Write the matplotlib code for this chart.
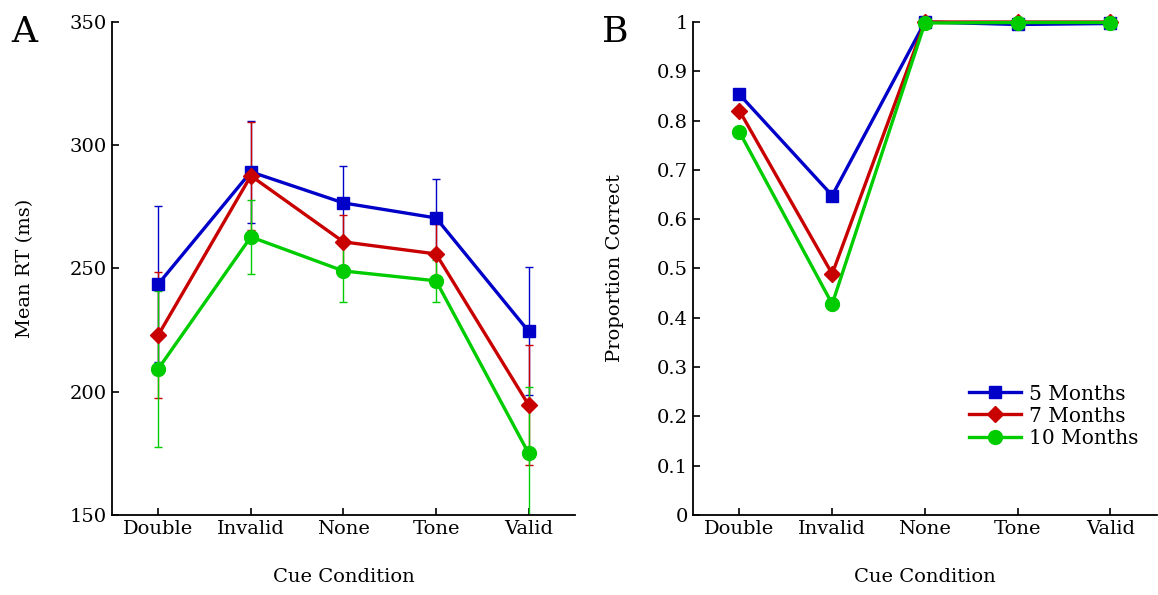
"""Mean RT and proportion correct by cue condition for three age groups."""

import matplotlib
matplotlib.use("Agg")
import matplotlib.pyplot as plt

plt.rcParams["font.family"] = ["DejaVu Serif"]

CONDITIONS = ["Double", "Invalid", "None", "Tone", "Valid"]
GROUPS = ["5 Months", "7 Months", "10 Months"]

# Panel A: mean RT (ms) and error bar half-widths
RT = {
    "5 Months": [243.7, 289.2, 276.6, 270.5, 224.5],
    "7 Months": [223.0, 287.6, 260.8, 255.9, 194.6],
    "10 Months": [209.3, 262.8, 249.0, 245.0, 175.0],
}
RT_ERR = {
    "5 Months": [31.6, 20.7, 15.0, 16.0, 26.0],
    "7 Months": [25.4, 22.0, 11.0, 12.0, 24.3],
    "10 Months": [31.6, 15.0, 12.4, 8.5, 27.0],
}

# Panel B: proportion correct
ACC = {
    "5 Months": [0.853, 0.648, 1.0, 0.995, 0.997],
    "7 Months": [0.820, 0.489, 1.0, 1.0, 1.0],
    "10 Months": [0.777, 0.428, 0.998, 0.999, 0.999],
}

COLORS = {"5 Months": "#0000c8", "7 Months": "#c80000", "10 Months": "#00cc00"}
MARKERS = {"5 Months": "s", "7 Months": "D", "10 Months": "o"}
MSIZE = {"5 Months": 8.5, "7 Months": 8, "10 Months": 10}
FS = 14

x = list(range(1, len(CONDITIONS) + 1))

fig = plt.figure(figsize=(11.58, 5.95), dpi=100)
axA = fig.add_axes([0.0967, 0.1345, 0.3998, 0.8285])
axB = fig.add_axes([0.5985, 0.1345, 0.4005, 0.8285])


def style_axis(ax):
    for side in ["top", "right"]:
        ax.spines[side].set_visible(False)
    for side in ["left", "bottom"]:
        ax.spines[side].set_linewidth(1.3)
    ax.tick_params(direction="in", length=5, width=1.2, labelsize=FS)
    ax.set_xlim(0.5, 5.5)
    ax.set_xticks(x)
    ax.set_xticklabels(CONDITIONS)
    ax.set_xlabel("Cue Condition", fontsize=FS, labelpad=22)


# --- Panel A ---
for g in GROUPS:
    axA.errorbar(x, RT[g], yerr=RT_ERR[g], color=COLORS[g], linewidth=2.4,
                 elinewidth=1.0, capsize=3, capthick=1.0,
                 marker=MARKERS[g], markersize=MSIZE[g], label=g, clip_on=True)
axA.set_ylim(150, 350)
axA.set_yticks([150, 200, 250, 300, 350])
axA.set_ylabel("Mean RT (ms)", fontsize=FS, labelpad=26)
style_axis(axA)

# --- Panel B ---
for g in GROUPS:
    axB.plot(x, ACC[g], color=COLORS[g], linewidth=2.4,
             marker=MARKERS[g], markersize=MSIZE[g], label=g, clip_on=False)
axB.set_ylim(0, 1)
axB.set_yticks([i / 10 for i in range(11)])
axB.set_yticklabels(["0"] + [f"{i / 10:.1f}" for i in range(1, 10)] + ["1"])
axB.set_ylabel("Proportion Correct", fontsize=FS, labelpad=24)
style_axis(axB)
axB.legend(loc="lower right", bbox_to_anchor=(1.0, 0.1), frameon=False,
           fontsize=FS + 0.5, handlelength=2.6, handletextpad=0.4,
           labelspacing=0.15)

fig.text(0.010, 0.93, "A", fontsize=26)
fig.text(0.520, 0.93, "B", fontsize=26)

plt.savefig("out.png", dpi=100)
